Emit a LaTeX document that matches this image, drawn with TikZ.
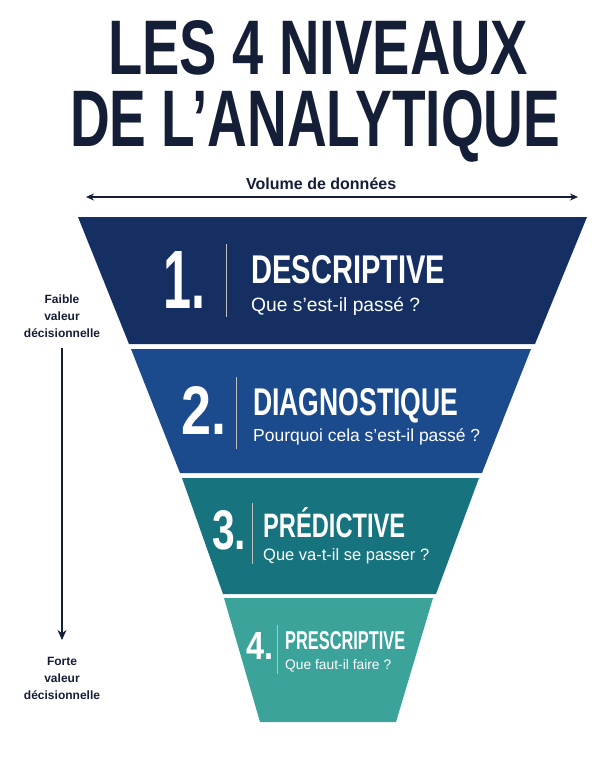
\documentclass[tikz,border=0pt]{standalone}
\usepackage{fontspec}
\usepackage{graphicx}
\setmainfont{Liberation Sans}
\usetikzlibrary{arrows.meta}
\definecolor{ink}{HTML}{141E36}
\definecolor{cA}{HTML}{152F63}
\definecolor{cB}{HTML}{1B4B8C}
\definecolor{cC}{HTML}{17747E}
\definecolor{cD}{HTML}{3BA39A}
\newcommand{\fitb}[3]{\resizebox{#1pt}{#2pt}{\bfseries #3}}
\begin{document}
\begin{tikzpicture}[x=1pt,y=-1pt,
  band/.style={draw=none},
  lbl/.style={inner sep=0,anchor=north west,text=white},
  side/.style={text=ink,align=center,font=\fontsize{12}{17}\selectfont\bfseries},
  sep/.style={draw=white!75!black,line width=0.8pt}]
\useasboundingbox (0,0) rectangle (614,768);
\fill[white] (0,0) rectangle (614,768);
% title
\node[inner sep=0,anchor=north west,text=ink] (t1) at (108,20) {\fitb{420}{54}{LES 4 NIVEAUX}};
\node[inner sep=0,anchor=north west,text=ink] (t2) at (70,90) {\fitb{490}{56}{DE L’ANALYTIQUE}};
% volume arrow
\node[inner sep=0,anchor=north west,text=ink] (vol) at (246,178) {\resizebox{150pt}{!}{\bfseries Volume de données}};
\coordinate (vl) at (86,197); \coordinate (vr) at (578,197);
\draw[ink,line width=1.3pt,{Stealth[length=8pt,width=7pt]}-{Stealth[length=8pt,width=7pt]}] (vl) -- (vr);
% bands
\fill[cA] (78,217) -- (587,217) -- (535,344) -- (129,344) -- cycle;
\fill[cB] (131,349) -- (531,349) -- (482,473) -- (180,473) -- cycle;
\fill[cC] (182,478) -- (479,478) -- (436,594) -- (223,594) -- cycle;
\fill[cD] (224,598) -- (433,598) -- (396,722) -- (260,722) -- cycle;
% band 1
\node[lbl] (n1) at (163,251) {\fitb{42}{57}{1.}};
\draw[sep] (226,244) -- (226,317);
\node[lbl] (h1) at (251,255) {\fitb{194}{28}{DESCRIPTIVE}};
\node[lbl] (s1) at (251,297) {\resizebox{169pt}{!}{Que s’est-il passé ?}};
% band 2
\node[lbl] (n2) at (181,386) {\fitb{45}{48}{2.}};
\draw[sep] (236,377) -- (236,449);
\node[lbl] (h2) at (253,388) {\fitb{205}{27}{DIAGNOSTIQUE}};
\node[lbl] (s2) at (253,428) {\resizebox{227pt}{!}{Pourquoi cela s’est-il passé ?}};
% band 3
\node[lbl] (n3) at (212,510) {\fitb{34}{39}{3.}};
\draw[sep] (252,503) -- (252,564);
\node[lbl] (h3) at (263,507) {\fitb{142}{30}{PRÉDICTIVE}};
\node[lbl] (s3) at (263,548) {\resizebox{166pt}{!}{Que va-t-il se passer ?}};
% band 4
\node[lbl] (n4) at (246,632) {\fitb{27}{27}{4.}};
\draw[sep] (277,625) -- (277,674);
\node[lbl] (h4) at (285,631) {\fitb{120}{18}{PRESCRIPTIVE}};
\node[lbl] (s4) at (285,659) {\resizebox{106pt}{!}{Que faut-il faire ?}};
% side labels
\node[side] (lo) at (62,316) {Faible\\valeur\\décisionnelle};
\node[side] (hi) at (62,678) {Forte\\valeur\\décisionnelle};
\coordinate (a0) at (62,348); \coordinate (a1) at (62,640);
\draw[ink,line width=1.3pt,-{Stealth[length=10pt,width=9pt]}] (a0) -- (a1);
\end{tikzpicture}
\end{document}
